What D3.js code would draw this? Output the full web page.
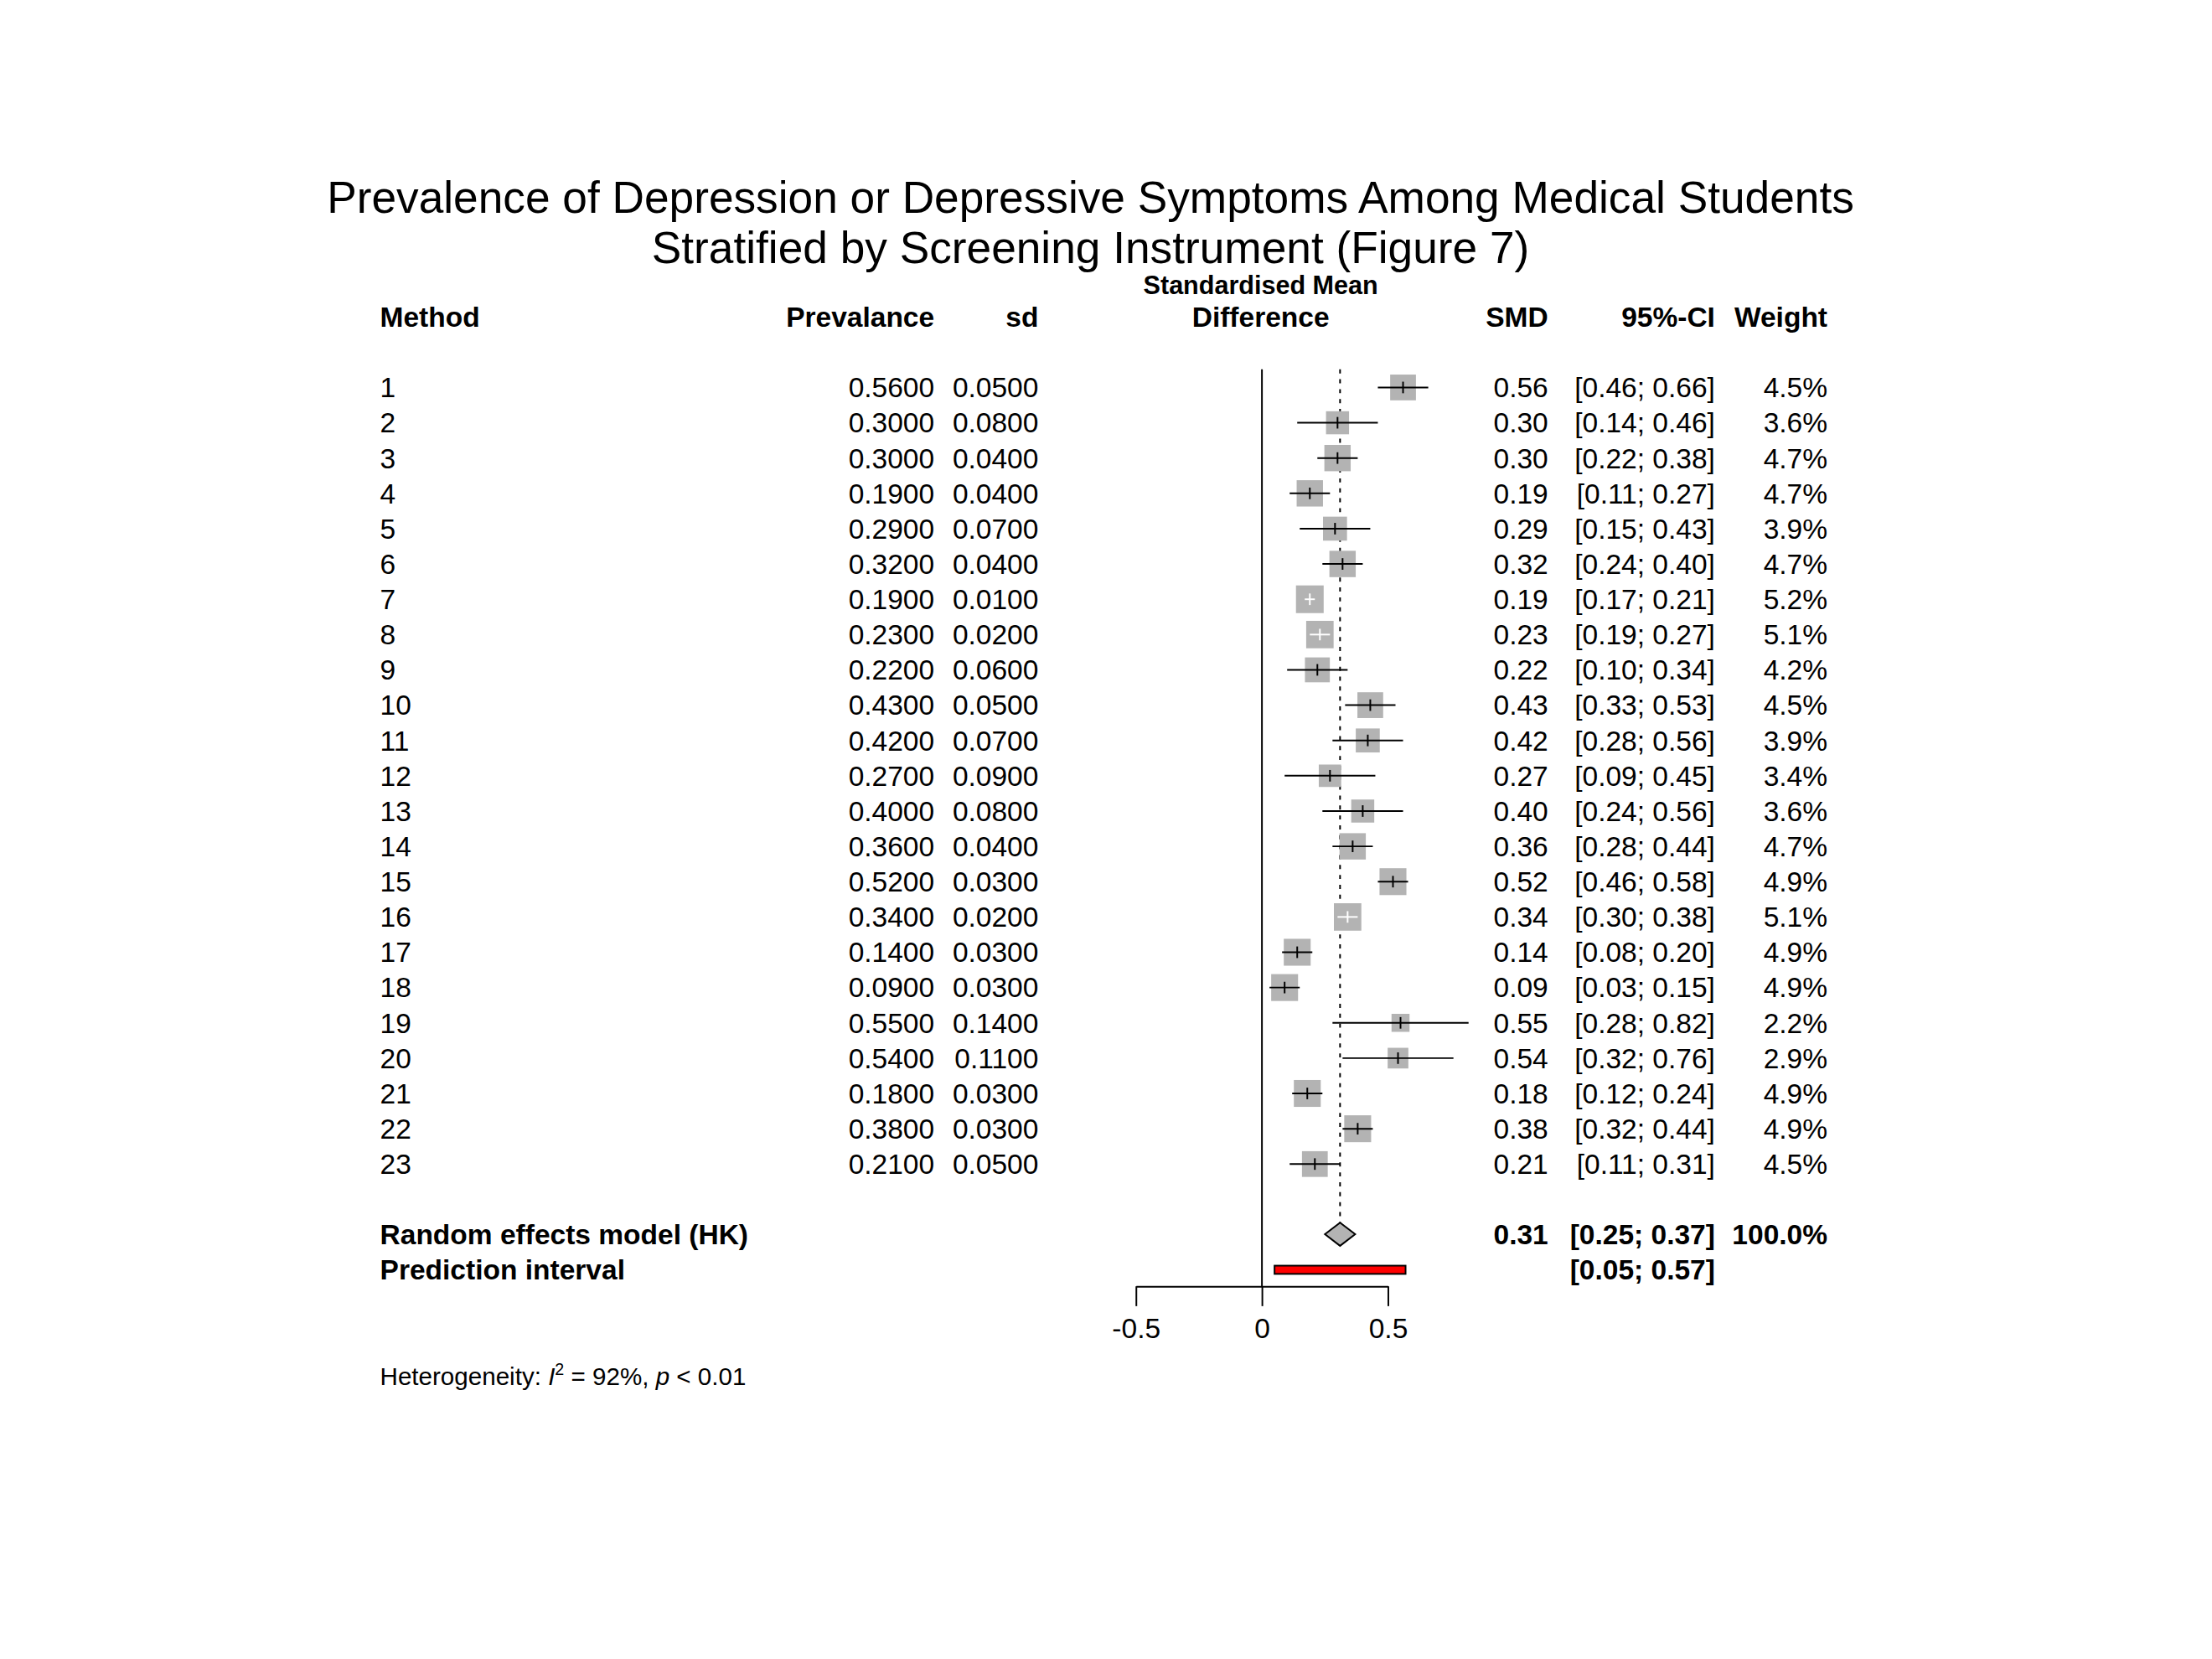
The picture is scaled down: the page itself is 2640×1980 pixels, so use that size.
<!DOCTYPE html>
<html>
<head>
<meta charset="utf-8">
<script src="https://cdn.jsdelivr.net/npm/d3@7"></script>
<style>
  body { margin: 0; background: #fff; }
  text { font-family: "Liberation Sans", Arial, sans-serif; }
</style>
</head>
<body>
<svg width="2640" height="1980"></svg>
<script>
const studies   = d3.range(1, 24).map(String);
const prevalence = [0.56,0.30,0.30,0.19,0.29,0.32,0.19,0.23,0.22,0.43,0.42,0.27,0.40,0.36,0.52,0.34,0.14,0.09,0.55,0.54,0.18,0.38,0.21];
const sds       = [0.05,0.08,0.04,0.04,0.07,0.04,0.01,0.02,0.06,0.05,0.07,0.09,0.08,0.04,0.03,0.02,0.03,0.03,0.14,0.11,0.03,0.03,0.05];
const lower     = [0.46,0.14,0.22,0.11,0.15,0.24,0.17,0.19,0.10,0.33,0.28,0.09,0.24,0.28,0.46,0.30,0.08,0.03,0.28,0.32,0.12,0.32,0.11];
const upper     = [0.66,0.46,0.38,0.27,0.43,0.40,0.21,0.27,0.34,0.53,0.56,0.45,0.56,0.44,0.58,0.38,0.20,0.15,0.82,0.76,0.24,0.44,0.31];
const weights   = [4.5,3.6,4.7,4.7,3.9,4.7,5.2,5.1,4.2,4.5,3.9,3.4,3.6,4.7,4.9,5.1,4.9,4.9,2.2,2.9,4.9,4.9,4.5];
const pooled    = { est: 0.31, lo: 0.25, hi: 0.37 };
const predInt   = { lo: 0.05, hi: 0.57 };
const xTicks    = [-0.5, 0, 0.5];

const svg = d3.select("svg").append("g").attr("transform", "scale(0.986)");
const x = d3.scaleLinear().domain([-0.5, 0.5]).range([1375, 1680]);
const y = d3.scaleLinear().domain([0, 22]).range([469, 1409]);
const yRE = 1494, yPI = 1537, yAxis = 1557;
const side = d3.scaleSqrt().domain([0, 1]).range([0, 14.7]);
const fs = 34;

// title
svg.append("text").attr("x", 1320).attr("y", 258).attr("text-anchor", "middle")
  .attr("font-size", 54).text("Prevalence of Depression or Depressive Symptoms Among Medical Students");
svg.append("text").attr("x", 1320).attr("y", 318).attr("text-anchor", "middle")
  .attr("font-size", 54).text("Stratified by Screening Instrument (Figure 7)");

// headers
const hdr = (t, xx, yy, anchor, size) => svg.append("text").attr("x", xx).attr("y", yy)
  .attr("text-anchor", anchor).attr("font-weight", "bold").attr("font-size", size || fs).text(t);
hdr("Standardised Mean", 1526, 356, "middle", 31);
hdr("Method", 460, 396, "start");
hdr("Prevalance", 1131, 396, "end");
hdr("sd", 1257, 396, "end");
hdr("Difference", 1526, 396, "middle");
hdr("SMD", 1874, 396, "end");
hdr("95%-CI", 2076, 396, "end");
hdr("Weight", 2212, 396, "end");

// reference lines
svg.append("line").attr("x1", x(0)).attr("x2", x(0)).attr("y1", 447).attr("y2", yAxis)
  .attr("stroke", "#000").attr("stroke-width", 2);
svg.append("line").attr("x1", x(pooled.est)).attr("x2", x(pooled.est)).attr("y1", 447).attr("y2", yRE - 14)
  .attr("stroke", "#000").attr("stroke-width", 2).attr("stroke-dasharray", "5,7");

const fmt4 = d3.format(".4f"), fmt2 = d3.format(".2f"), fmt1 = d3.format(".1f");

const row = svg.append("g").selectAll("g").data(studies).join("g")
  .attr("transform", (d, i) => `translate(0,${y(i)})`);

row.append("text").attr("x", 460).attr("y", 12).attr("font-size", fs).text(d => d);
row.append("text").attr("x", 1131).attr("y", 12).attr("font-size", fs).attr("text-anchor", "end").text((d, i) => fmt4(prevalence[i]));
row.append("text").attr("x", 1257).attr("y", 12).attr("font-size", fs).attr("text-anchor", "end").text((d, i) => fmt4(sds[i]));
row.append("text").attr("x", 1874).attr("y", 12).attr("font-size", fs).attr("text-anchor", "end").text((d, i) => fmt2(prevalence[i]));
row.append("text").attr("x", 2076).attr("y", 12).attr("font-size", fs).attr("text-anchor", "end").text((d, i) => `[${fmt2(lower[i])}; ${fmt2(upper[i])}]`);
row.append("text").attr("x", 2212).attr("y", 12).attr("font-size", fs).attr("text-anchor", "end").text((d, i) => fmt1(weights[i]) + "%");

row.append("rect")
  .attr("x", (d, i) => x(prevalence[i]) - side(weights[i]) / 2)
  .attr("y", (d, i) => -side(weights[i]) / 2)
  .attr("width", (d, i) => side(weights[i]))
  .attr("height", (d, i) => side(weights[i]))
  .attr("fill", "#b3b3b3");

const inside = i => x(upper[i]) - x(lower[i]) < side(weights[i]);
row.append("line")
  .attr("x1", (d, i) => x(lower[i])).attr("x2", (d, i) => x(upper[i]))
  .attr("stroke", (d, i) => inside(i) ? "#fff" : "#000").attr("stroke-width", 2);
row.append("line")
  .attr("x1", (d, i) => x(prevalence[i])).attr("x2", (d, i) => x(prevalence[i]))
  .attr("y1", -7).attr("y2", 7)
  .attr("stroke", (d, i) => inside(i) ? "#fff" : "#000").attr("stroke-width", 2);

// pooled
svg.append("path")
  .attr("d", `M${x(pooled.lo)},${yRE} L${x(pooled.est)},${yRE - 14} L${x(pooled.hi)},${yRE} L${x(pooled.est)},${yRE + 14} Z`)
  .attr("fill", "#b3b3b3").attr("stroke", "#000").attr("stroke-width", 2);
svg.append("rect").attr("x", x(predInt.lo)).attr("y", yPI - 5)
  .attr("width", x(predInt.hi) - x(predInt.lo)).attr("height", 10)
  .attr("fill", "#ff0000").attr("stroke", "#000").attr("stroke-width", 2);

hdr("Random effects model (HK)", 460, yRE + 12, "start");
hdr("Prediction interval", 460, yPI + 12, "start");
hdr(fmt2(pooled.est), 1874, yRE + 12, "end");
hdr(`[${fmt2(pooled.lo)}; ${fmt2(pooled.hi)}]`, 2076, yRE + 12, "end");
hdr("100.0%", 2212, yRE + 12, "end");
hdr(`[${fmt2(predInt.lo)}; ${fmt2(predInt.hi)}]`, 2076, yPI + 12, "end");

// axis
const axis = svg.append("g").attr("transform", `translate(0,${yAxis})`)
  .call(d3.axisBottom(x).tickValues(xTicks).tickSize(24).tickSizeOuter(0).tickFormat(d3.format("")));
axis.select(".domain").attr("stroke-width", 2);
axis.selectAll(".tick line").attr("stroke-width", 2);
axis.selectAll(".tick text").attr("font-size", fs).attr("font-family", "Liberation Sans, Arial, sans-serif")
  .attr("y", 52).attr("dy", "0.32em").text(d => d === 0 ? "0" : String(d));

// heterogeneity
const het = svg.append("text").attr("x", 460).attr("y", 1676).attr("font-size", 30);
het.append("tspan").text("Heterogeneity: ");
het.append("tspan").attr("font-style", "italic").text("I");
het.append("tspan").attr("font-size", 20).attr("dy", -12).text("2");
het.append("tspan").attr("dy", 12).text(" = 92%, ");
het.append("tspan").attr("font-style", "italic").text("p");
het.append("tspan").text(" < 0.01");
</script>
</body>
</html>
